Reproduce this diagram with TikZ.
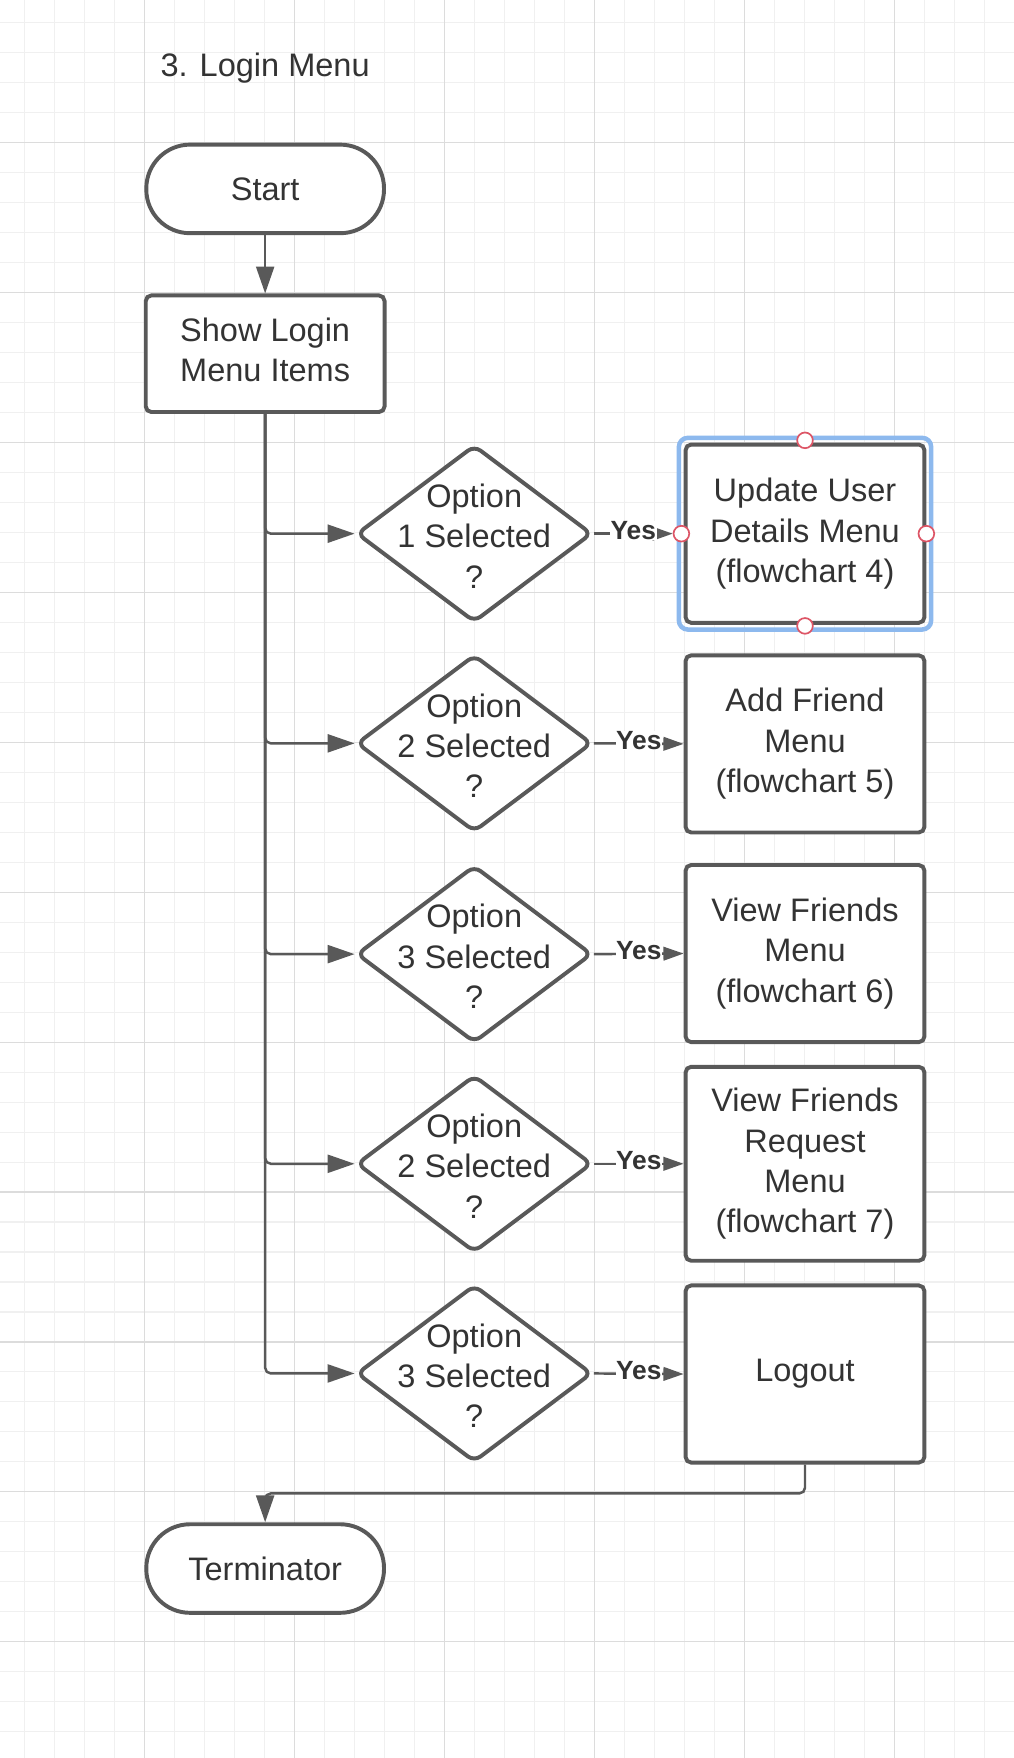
\documentclass[tikz,border=0pt]{standalone}
\usepackage{fontspec}
\setmainfont{Liberation Sans}
\usetikzlibrary{arrows.meta,shapes.geometric,positioning}

\definecolor{linegray}{HTML}{595959}
\definecolor{textgray}{HTML}{333333}
\definecolor{gridminor}{HTML}{F0F0F0}
\definecolor{gridmajor}{HTML}{DCDCDC}
\definecolor{selblue}{HTML}{8DB9EE}
\definecolor{handlered}{HTML}{DD5566}

\begin{document}
\begin{tikzpicture}[
                    x=1pt, y=-1pt,
                    font=\fontsize{29}{36}\selectfont,
                    text=textgray,
                    terminal/.style={draw=linegray, line width=3.5pt, fill=white,
                        rounded corners=39pt, minimum width=212pt, minimum height=79pt},
                    process/.style={draw=linegray, line width=3.5pt, fill=white,
                        rounded corners=5pt, minimum width=213pt, minimum height=#1,
                        align=center},
                    process/.default=158pt,
                    decision/.style={diamond, draw=linegray, line width=3.5pt, fill=white,
                        rounded corners=7pt, minimum width=210pt, minimum height=158pt,
                        inner sep=0pt},
                    flow/.style={draw=linegray, line width=2.2pt, rounded corners=5pt,
                        -{Triangle[length=24pt,width=16pt]}},
                    yesflow/.style={draw=linegray, line width=2.2pt,
                        -{Triangle[length=18pt,width=12pt]}},
                    yes/.style={font=\fontsize{23.5}{27}\selectfont\bfseries,
                        fill=white, inner sep=0.5pt, yshift=3pt},
                    handle/.style={circle, draw=handlered, line width=1.5pt, fill=white,
                        minimum size=14pt, inner sep=0pt}
                ]
                % background and grid
                \fill[white] (0,0) rectangle (904,1568);
                \useasboundingbox (0,0) rectangle (904,1568);
                \foreach \i in {0,...,33} {
                    \pgfmathsetmacro\gx{22.04+26.74*\i}
                    \draw[gridminor, line width=1pt] (\gx,0) -- (\gx,1568);
                }
                \foreach \j in {0,...,57} {
                    \pgfmathsetmacro\gy{20.34+26.74*\j}
                    \draw[gridminor, line width=1pt] (0,\gy) -- (904,\gy);
                }
                \foreach \i in {0,...,5} {
                    \pgfmathsetmacro\gx{129+133.7*\i}
                    \draw[gridmajor, line width=1pt] (\gx,0) -- (\gx,1568);
                }
                \foreach \j in {0,...,10} {
                    \pgfmathsetmacro\gy{127.3+133.7*\j}
                    \draw[gridmajor, line width=1pt] (0,\gy) -- (904,\gy);
                }

                \node (title) [anchor=base west, inner sep=0pt] at (143,68) {3. Login Menu};

                \node (start) [terminal] at (236.5,168.5) {Start};
                \node (menu) [process=104pt] at (236.5,315.5) {\raisebox{4pt}{\begin{tabular}{@{}c@{}}Show Login\\Menu Items\end{tabular}}};

                \node (opt1) [decision, label={[align=center, yshift=-2pt]center:Option\\1 Selected\\?}] at (423,476) {};
                \node (opt2) [decision, label={[align=center, yshift=-2pt]center:Option\\2 Selected\\?}] at (423,663) {};
                \node (opt3) [decision, label={[align=center, yshift=-2pt]center:Option\\3 Selected\\?}] at (423,851) {};
                \node (opt4) [decision, label={[align=center, yshift=-2pt]center:Option\\2 Selected\\?}] at (423,1038) {};
                \node (opt5) [decision, label={[align=center, yshift=-2pt]center:Option\\3 Selected\\?}] at (423,1225) {};

                \node (update) [process=159pt] at (718,476) {Update User\\Details Menu\\(flowchart 4)};
                \node (friend) [process] at (718,663.5) {Add Friend\\Menu\\(flowchart 5)};
                \node (view) [process] at (718,850.5) {View Friends\\Menu\\(flowchart 6)};
                \node (request) [process=173pt] at (718,1038) {View Friends\\Request\\Menu\\(flowchart 7)};
                \node (logout) [process] at (718,1225.5) {Logout};

                \node (term) [terminal] at (236.5,1399) {Terminator};

                % selection frame
                \node (select) [draw=selblue, line width=4pt, rounded corners=8pt,
                    minimum width=225pt, minimum height=171pt] at (update) {};
                \node (hn) [handle] at ([yshift=2pt]update.north) {};
                \node (hs) [handle] at ([yshift=-1pt]update.south) {};
                \node (hw) [handle] at ([xshift=-2pt]update.west) {};
                \node (he) [handle] at (update.east) {};

                \draw[flow] (start) -- (menu);
                \draw[flow] (menu.south) |- (opt1.west);
                \draw[flow] (menu.south) |- (opt2.west);
                \draw[flow] (menu.south) |- (opt3.west);
                \draw[flow] (menu.south) |- (opt4.west);
                \draw[flow] (menu.south) |- (opt5.west);

                \path
                (opt1.east) edge[yesflow] node[yes] {Yes} (hw.west)
                (opt2.east) edge[yesflow] node[yes] {Yes} (friend.west)
                (opt3.east) edge[yesflow] node[yes] {Yes} (view.west)
                (opt4.east) edge[yesflow] node[yes] {Yes} (request.west)
                (opt5.east) edge[yesflow] node[yes] {Yes} (logout.west)
                ;

                \coordinate (join) at (236.5,1332);
                \draw[flow] (logout.south) |- (join) -- (term.north);
            \end{tikzpicture}
\end{document}
